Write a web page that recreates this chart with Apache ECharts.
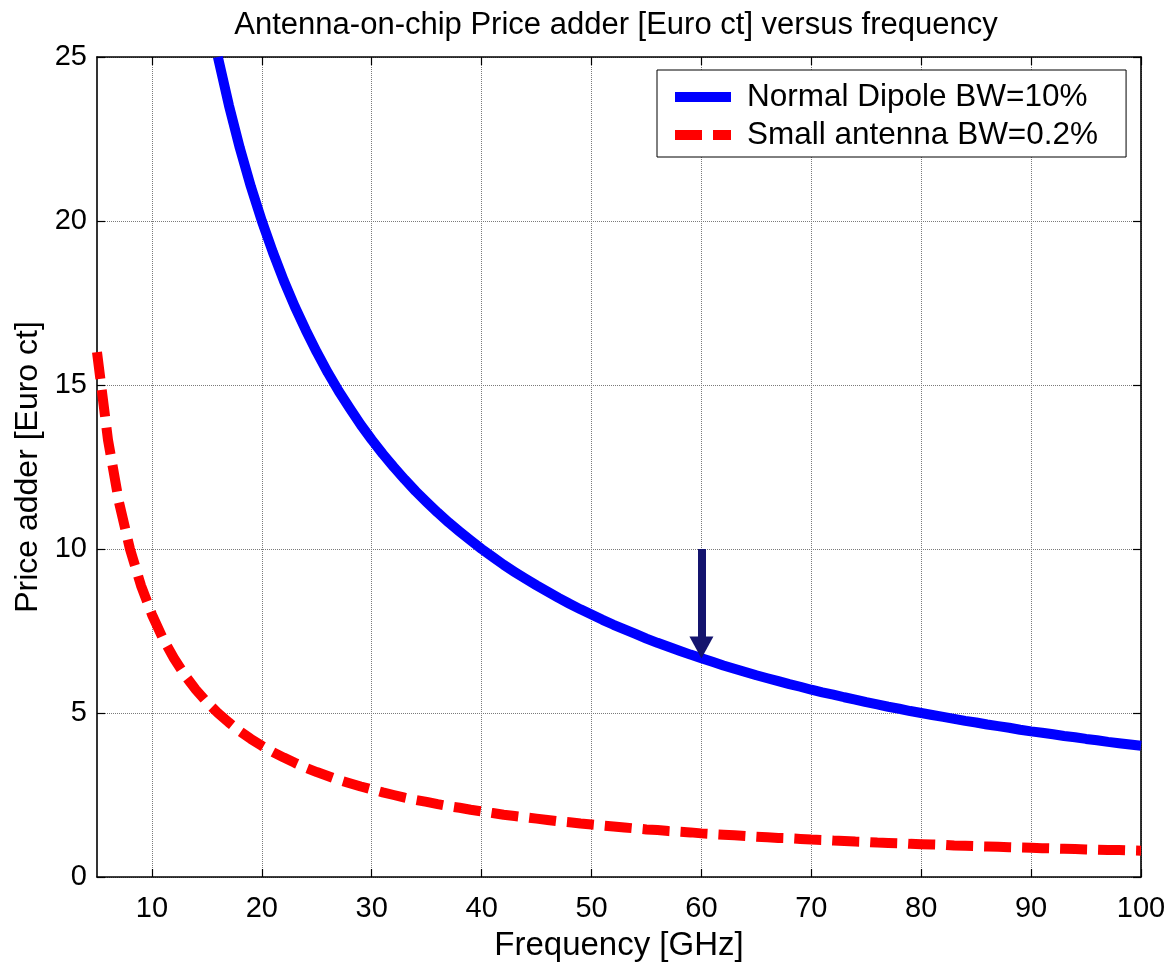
<!DOCTYPE html>
<html>
<head>
<meta charset="utf-8">
<title>Antenna-on-chip Price adder</title>
<script src="https://cdn.jsdelivr.net/npm/echarts@6/dist/echarts.min.js"></script>
<style>
  html, body { margin: 0; padding: 0; background: #ffffff; }
  #chart { width: 1172px; height: 967px; }
</style>
</head>
<body>
<div id="chart"></div>
<script>
// Frequency grid [GHz]
const freqDipole = [16,17,18,19,20,21,22,23,24,25,26,27,28,29,30,31,32,33,34,35,36,37,38,39,40,
  41,42,43,44,45,46,47,48,49,50,51,52,53,54,55,56,57,58,59,60,61,62,63,64,65,66,67,68,69,70,
  71,72,73,74,75,76,77,78,79,80,81,82,83,84,85,86,87,88,89,90,91,92,93,94,95,96,97,98,99,100];
// Price adder [Euro ct], normal dipole, BW = 10 %
const priceDipole = [25.00,23.53,22.22,21.05,20.00,19.05,18.18,17.39,16.67,16.00,15.38,14.81,14.29,13.79,13.33,
  12.90,12.50,12.12,11.76,11.43,11.11,10.81,10.53,10.26,10.00,9.76,9.52,9.30,9.09,8.89,8.70,8.51,8.33,8.16,8.00,
  7.84,7.69,7.55,7.41,7.27,7.14,7.02,6.90,6.78,6.67,6.56,6.45,6.35,6.25,6.15,6.06,5.97,5.88,5.80,5.71,
  5.63,5.56,5.48,5.41,5.33,5.26,5.19,5.13,5.06,5.00,4.94,4.88,4.82,4.76,4.71,4.65,4.60,4.55,4.49,4.44,
  4.40,4.35,4.30,4.26,4.21,4.17,4.12,4.08,4.04,4.00];

const freqSmall = [5,6,7,8,9,10,11,12,13,14,15,16,17,18,19,20,21,22,23,24,25,26,27,28,29,30,31,32,33,34,35,
  36,37,38,39,40,41,42,43,44,45,46,47,48,49,50,51,52,53,54,55,56,57,58,59,60,61,62,63,64,65,66,67,68,69,70,
  71,72,73,74,75,76,77,78,79,80,81,82,83,84,85,86,87,88,89,90,91,92,93,94,95,96,97,98,99,100];
// Price adder [Euro ct], small antenna, BW = 0.2 %
const priceSmall = [16.00,13.33,11.43,10.00,8.89,8.00,7.27,6.67,6.15,5.71,5.33,5.00,4.71,4.44,4.21,4.00,
  3.81,3.64,3.48,3.33,3.20,3.08,2.96,2.86,2.76,2.67,2.58,2.50,2.42,2.35,2.29,2.22,2.16,2.11,2.05,2.00,
  1.95,1.90,1.86,1.82,1.78,1.74,1.70,1.67,1.63,1.60,1.57,1.54,1.51,1.48,1.45,1.43,1.40,1.38,1.36,1.33,
  1.31,1.29,1.27,1.25,1.23,1.21,1.19,1.18,1.16,1.14,1.13,1.11,1.10,1.08,1.07,1.05,1.04,1.03,1.01,1.00,
  0.99,0.98,0.96,0.95,0.94,0.93,0.92,0.91,0.90,0.89,0.88,0.87,0.86,0.85,0.84,0.83,0.82,0.82,0.81,0.80];

// Tick values
const xTicks = [10,20,30,40,50,60,70,80,90,100];
const yTicks = [0,5,10,15,20,25];

// Arrow marking the 60 GHz point on the dipole curve
const arrowStart = [60, 10];
const arrowEnd = [60, 7.0];

const seriesNames = ['Normal Dipole BW=10%', 'Small antenna BW=0.2%'];

const FONT = '"Liberation Sans", Arial, sans-serif';

const toPairs = (xs, ys) => xs.map((x, i) => [x, ys[i]]);

const chart = echarts.init(document.getElementById('chart'), null, { renderer: 'canvas' });

const tickStyle = { color: '#000', width: 1.2 };
const axisLineStyle = { color: '#000', width: 1.6 };
const gridLineStyle = { color: '#7a7a7a', width: 1, type: 'dotted' };

chart.setOption({
  animation: false,
  backgroundColor: '#ffffff',
  title: {
    text: 'Antenna-on-chip Price adder [Euro ct] versus frequency',
    left: 611, top: 5, textAlign: 'center',
    textStyle: { fontFamily: FONT, fontSize: 31, fontWeight: 'normal', color: '#000' }
  },
  legend: {
    orient: 'vertical',
    left: 657, top: 70,
    padding: [10, 28, 5, 13],
    itemGap: 4,
    itemWidth: 56, itemHeight: 14,
    borderColor: '#000', borderWidth: 1, backgroundColor: '#fff',
    itemStyle: { opacity: 0 },
    lineStyle: { width: 10 },
    textStyle: { fontFamily: FONT, fontSize: 31.5, color: '#000', lineHeight: 34, padding: [0, 0, 0, 11] },
    data: seriesNames
  },
  grid: { left: 97, right: 31, top: 57, bottom: 90, containLabel: false },
  xAxis: [
    {
      type: 'value', min: 5, max: 100,
      name: 'Frequency [GHz]', nameLocation: 'middle', nameGap: 52,
      nameTextStyle: { fontFamily: FONT, fontSize: 33, color: '#000' },
      axisLine: { show: true, onZero: false, lineStyle: axisLineStyle },
      axisTick: { show: true, inside: true, length: 8, lineStyle: tickStyle, customValues: xTicks },
      axisLabel: { fontFamily: FONT, fontSize: 29, color: '#000', margin: 17, customValues: xTicks },
      splitLine: { show: true, lineStyle: gridLineStyle }
    },
    {
      type: 'value', min: 5, max: 100, position: 'top',
      axisLine: { show: true, onZero: false, lineStyle: axisLineStyle },
      axisTick: { show: true, inside: true, length: 8, lineStyle: tickStyle, customValues: xTicks },
      axisLabel: { show: false, customValues: xTicks },
      splitLine: { show: false }
    }
  ],
  yAxis: [
    {
      type: 'value', min: 0, max: 25, interval: 5,
      name: 'Price adder [Euro ct]', nameLocation: 'middle', nameGap: 53,
      nameTextStyle: { fontFamily: FONT, fontSize: 32, color: '#000' },
      axisLine: { show: true, onZero: false, lineStyle: axisLineStyle },
      axisTick: { show: true, inside: true, length: 8, lineStyle: tickStyle },
      axisLabel: { fontFamily: FONT, fontSize: 29, color: '#000', margin: 10,
        formatter: v => (yTicks.indexOf(v) >= 0 ? String(v) : '') },
      splitLine: { show: true, lineStyle: gridLineStyle }
    },
    {
      type: 'value', min: 0, max: 25, interval: 5, position: 'right',
      axisLine: { show: true, onZero: false, lineStyle: axisLineStyle },
      axisTick: { show: true, inside: true, length: 8, lineStyle: tickStyle },
      axisLabel: { show: false },
      splitLine: { show: false }
    }
  ],
  series: [
    {
      name: seriesNames[0],
      type: 'line',
      xAxisIndex: 0, yAxisIndex: 0,
      data: toPairs(freqDipole, priceDipole),
      symbol: 'none',
      clip: true,
      z: 3,
      lineStyle: { color: '#0000ff', width: 10, cap: 'butt', join: 'round' },
      itemStyle: { color: '#0000ff' },
      markLine: {
        silent: true,
        symbol: ['none', 'triangle'],
        symbolSize: [24, 22],
        label: { show: false },
        lineStyle: { color: '#14146e', width: 8, type: 'solid', cap: 'butt' },
        emphasis: { disabled: true },
        data: [[{ coord: arrowStart }, { coord: arrowEnd }]],
        z: 5
      }
    },
    {
      name: seriesNames[1],
      type: 'line',
      xAxisIndex: 0, yAxisIndex: 0,
      data: toPairs(freqSmall, priceSmall),
      symbol: 'none',
      clip: true,
      z: 2,
      lineStyle: { color: '#ff0000', width: 10, type: [27, 11], cap: 'butt', join: 'round' },
      itemStyle: { color: '#ff0000' }
    }
  ]
});
</script>
</body>
</html>
